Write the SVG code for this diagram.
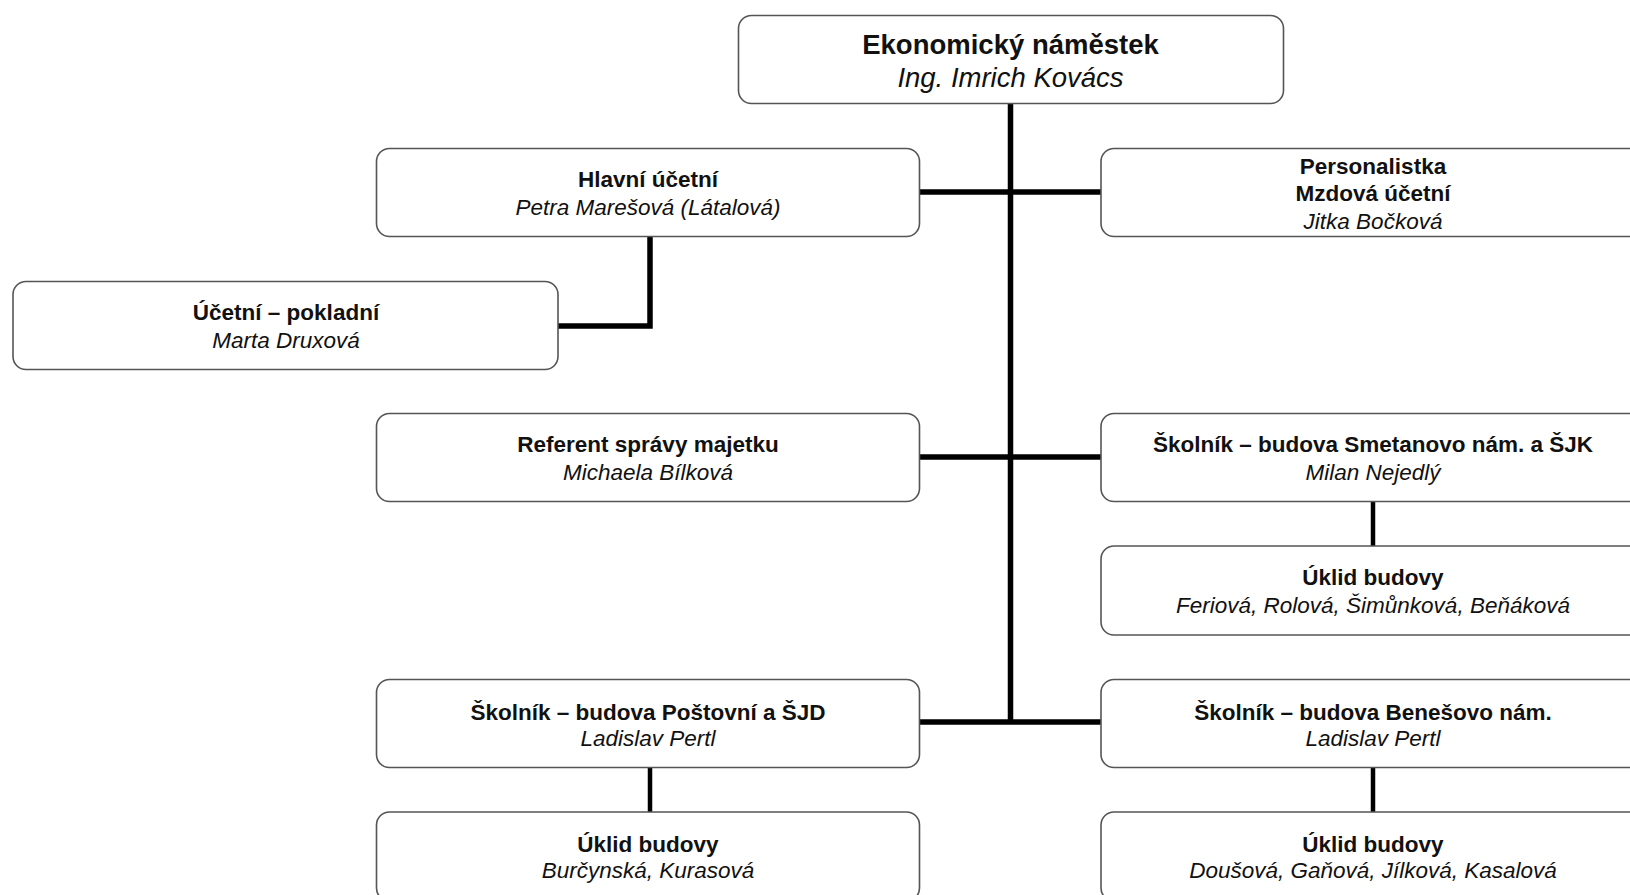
<svg xmlns="http://www.w3.org/2000/svg" width="1630" height="895" viewBox="0 0 1630 895">
<style>
.box{fill:#fff;stroke:#555;stroke-width:1.6}
.t{font-family:"Liberation Sans",Arial,sans-serif;font-size:22.5px;text-anchor:middle;fill:#111}
.b{font-weight:bold}
.i{font-style:italic}
.big{font-size:27.5px}
.c{fill:none;stroke:#000;stroke-width:5.5}
.c2{fill:none;stroke:#000;stroke-width:4.5}
</style>
<rect width="1630" height="895" fill="#fff"/>
<g id="connectors">
<line class="c" x1="1010.5" y1="104" x2="1010.5" y2="724"/>
<line class="c" x1="920" y1="192" x2="1101" y2="192"/>
<line class="c" x1="920" y1="457" x2="1101" y2="457"/>
<line class="c" x1="920" y1="722" x2="1101" y2="722"/>
<polyline class="c" points="650,237 650,326 558,326"/>
<line class="c2" x1="1373" y1="502" x2="1373" y2="546"/>
<line class="c2" x1="650" y1="768" x2="650" y2="812"/>
<line class="c2" x1="1373" y1="768" x2="1373" y2="812"/>
</g>
<g id="n-top">
<rect class="box" x="738.5" y="15.5" width="545" height="88" rx="13"/>
<text class="t b big" x="1010.5" y="54">Ekonomický náměstek</text>
<text class="t i big" x="1010.5" y="87">Ing. Imrich Kovács</text>
</g>
<g id="n-hlavni">
<rect class="box" x="376.5" y="148.5" width="543" height="88" rx="13"/>
<text class="t b" x="648" y="187">Hlavní účetní</text>
<text class="t i" x="648" y="215">Petra Marešová (Látalová)</text>
</g>
<g id="n-pokladni">
<rect class="box" x="13" y="281.5" width="545" height="88" rx="13"/>
<text class="t b" x="286" y="320">Účetní – pokladní</text>
<text class="t i" x="286" y="348">Marta Druxová</text>
</g>
<g id="n-personal">
<rect class="box" x="1101" y="148.5" width="545" height="88" rx="13"/>
<text class="t b" x="1373" y="174">Personalistka</text>
<text class="t b" x="1373" y="201">Mzdová účetní</text>
<text class="t i" x="1373" y="229">Jitka Bočková</text>
</g>
<g id="n-referent">
<rect class="box" x="376.5" y="413.5" width="543" height="88" rx="13"/>
<text class="t b" x="648" y="452">Referent správy majetku</text>
<text class="t i" x="648" y="480">Michaela Bílková</text>
</g>
<g id="n-smetanovo">
<rect class="box" x="1101" y="413.5" width="545" height="88" rx="13"/>
<text class="t b" x="1373" y="452">Školník – budova Smetanovo nám. a ŠJK</text>
<text class="t i" x="1373" y="480">Milan Nejedlý</text>
</g>
<g id="n-uklid1">
<rect class="box" x="1101" y="546" width="545" height="89" rx="13"/>
<text class="t b" x="1373" y="585">Úklid budovy</text>
<text class="t i" x="1373" y="613">Feriová, Rolová, Šimůnková, Beňáková</text>
</g>
<g id="n-postovni">
<rect class="box" x="376.5" y="679.5" width="543" height="88" rx="13"/>
<text class="t b" x="648" y="720">Školník – budova Poštovní a ŠJD</text>
<text class="t i" x="648" y="746">Ladislav Pertl</text>
</g>
<g id="n-benesovo">
<rect class="box" x="1101" y="679.5" width="545" height="88" rx="13"/>
<text class="t b" x="1373" y="720">Školník – budova Benešovo nám.</text>
<text class="t i" x="1373" y="746">Ladislav Pertl</text>
</g>
<g id="n-uklid2">
<rect class="box" x="376.5" y="812" width="543" height="89" rx="13"/>
<text class="t b" x="648" y="852">Úklid budovy</text>
<text class="t i" x="648" y="878">Burčynská, Kurasová</text>
</g>
<g id="n-uklid3">
<rect class="box" x="1101" y="812" width="545" height="89" rx="13"/>
<text class="t b" x="1373" y="852">Úklid budovy</text>
<text class="t i" x="1373" y="878">Doušová, Gaňová, Jílková, Kasalová</text>
</g>
</svg>
